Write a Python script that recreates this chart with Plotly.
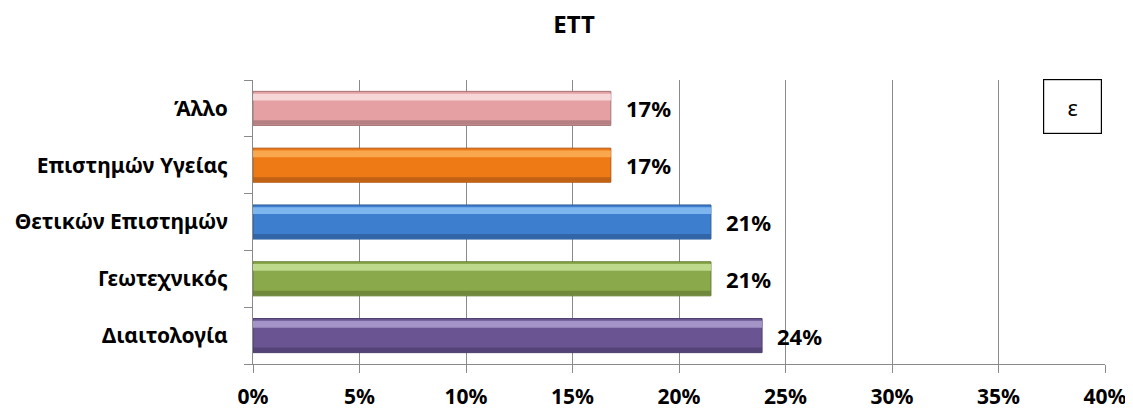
import plotly.graph_objects as go

# Data (bottom to top as drawn by Plotly)
categories = ["Διαιτολογία", "Γεωτεχνικός", "Θετικών Επιστημών", "Επιστημών Υγείας", "Άλλο"]
values = [0.239, 0.215, 0.215, 0.168, 0.168]
value_labels = ["24%", "21%", "21%", "17%", "17%"]
x_ticks = [0, 0.05, 0.10, 0.15, 0.20, 0.25, 0.30, 0.35, 0.40]
x_tick_labels = ["0%", "5%", "10%", "15%", "20%", "25%", "30%", "35%", "40%"]
title_text = "ΕΤΤ"
box_text = "ε"

base_colors = ["#6A5592", "#8AA94A", "#3E7ECF", "#EE7A16", "#E4A0A2"]
light_colors = ["#A393C6", "#BDD98B", "#7DB6EF", "#FAA84E", "#F7D6D7"]
dark_colors = ["#4E3E6C", "#667E36", "#2D5D9B", "#B25913", "#A67677"]

FONT = "Noto Sans"

fig = go.Figure()
# main bar
fig.add_trace(go.Bar(
    y=categories, x=values, orientation="h",
    marker=dict(color=base_colors, line=dict(color=dark_colors, width=1)),
    width=0.6, offset=-0.3, hoverinfo="skip", showlegend=False,
))
# top highlight strip
fig.add_trace(go.Bar(
    y=categories, x=values, orientation="h",
    marker=dict(color=light_colors, line=dict(width=0)),
    width=0.12, offset=0.14, hoverinfo="skip", showlegend=False,
))
# bottom shade strip
fig.add_trace(go.Bar(
    y=categories, x=values, orientation="h",
    marker=dict(color=dark_colors, line=dict(width=0), opacity=0.75),
    width=0.08, offset=-0.29, hoverinfo="skip", showlegend=False,
))

annotations = []
for c, v, t in zip(categories, values, value_labels):
    annotations.append(dict(
        x=v, y=c, xref="x", yref="y", text=t, showarrow=False,
        xanchor="left", yanchor="middle", xshift=13,
        font=dict(family=FONT, size=22, color="#000000", weight="bold"),
    ))
annotations.append(dict(
    x=0.9615, y=0.907, xref="paper", yref="paper", text=box_text,
    showarrow=False, xanchor="center", yanchor="middle",
    width=57, height=53, borderpad=0, bordercolor="#000000", borderwidth=1.2,
    bgcolor="#FFFFFF",
    font=dict(family=FONT, size=22, color="#000000"),
))

fig.update_layout(
    width=1133, height=413,
    margin=dict(l=245, r=36, t=72, b=57, autoexpand=False),
    paper_bgcolor="#FFFFFF", plot_bgcolor="#FFFFFF",
    barmode="overlay",
    title=dict(text=title_text, x=0.4996, xref="container", xanchor="center",
               y=0.96, yref="container", yanchor="middle",
               font=dict(family=FONT, size=24, color="#000000", weight="bold")),
    annotations=annotations,
    xaxis=dict(
        range=[0, 0.40], tickvals=x_ticks, ticktext=x_tick_labels,
        showgrid=True, gridcolor="#8A8A8A", gridwidth=1,
        showline=True, linecolor="#8A8A8A", linewidth=1,
        ticks="outside", ticklen=8, tickcolor="#8A8A8A",
        tickfont=dict(family=FONT, size=21, color="#000000", weight="bold"),
        ticklabelstandoff=6, zeroline=False, automargin=False,
    ),
    yaxis=dict(
        categoryorder="array", categoryarray=categories,
        range=[-0.5, 4.5],
        showgrid=False, showline=True, linecolor="#8A8A8A", linewidth=1,
        ticks="outside", ticklen=8, tickcolor="#8A8A8A", tickson="boundaries",
        tickfont=dict(family=FONT, size=21, color="#000000", weight="bold"),
        ticklabelstandoff=20, automargin=False,
    ),
)

fig.write_html("out.html")
